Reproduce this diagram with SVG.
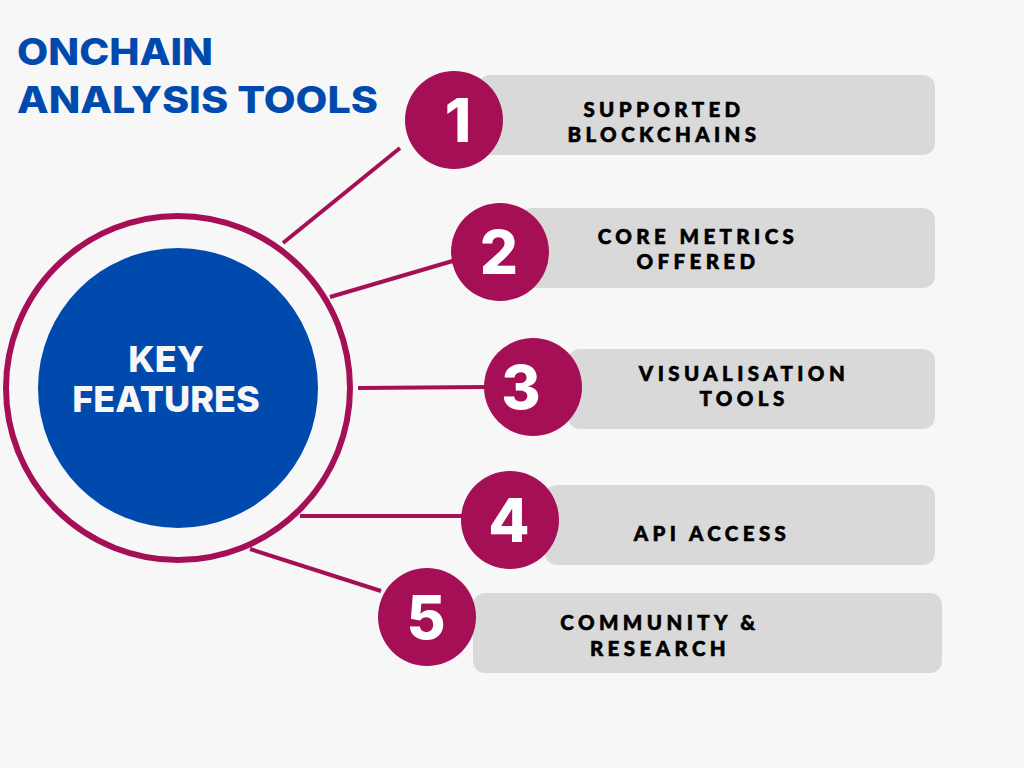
<svg xmlns="http://www.w3.org/2000/svg" width="1024" height="768" viewBox="0 0 1024 768">
<style>
.title{font-family:Inter,"Open Sans","Liberation Sans",sans-serif;font-weight:800;font-size:37px;fill:#004aad}
.center{font-family:Inter,"Open Sans","Liberation Sans",sans-serif;font-weight:800;font-size:36px;fill:#f7f7f7;text-anchor:middle}
.num{font-family:Inter,"Open Sans","Liberation Sans",sans-serif;font-weight:800;font-size:60px;fill:#ffffff;text-anchor:middle}
.lbl{font-family:Lato,"Open Sans","Liberation Sans",sans-serif;font-weight:900;font-size:20.5px;fill:#000;stroke:#000;stroke-width:0.6px;text-anchor:middle;letter-spacing:4.4px}
.box{fill:#d9d9d9}
.badge{fill:#a50f55}
.conn{stroke:#a50f55;stroke-width:4;fill:none}
</style>
<rect width="1024" height="768" fill="#f7f7f7"/>
<g id="title">
<text class="title" x="17" y="65" textLength="196" lengthAdjust="spacingAndGlyphs">ONCHAIN</text>
<text class="title" x="17" y="113" textLength="361" lengthAdjust="spacingAndGlyphs">ANALYSIS TOOLS</text>
</g>
<g id="connectors">
<line class="conn" x1="283" y1="243" x2="400" y2="148"/>
<line class="conn" x1="330" y1="297" x2="456" y2="260"/>
<line class="conn" x1="358" y1="388" x2="486" y2="387"/>
<line class="conn" x1="300" y1="516" x2="463" y2="516"/>
<line class="conn" x1="250" y1="549" x2="381" y2="591"/>
</g>
<g id="key-features">
<circle cx="178" cy="388" r="172" fill="none" stroke="#a50f55" stroke-width="6"/>
<circle cx="178" cy="388" r="140" fill="#004aad"/>
<text class="center" x="166" y="372">KEY</text>
<text class="center" x="166" y="412">FEATURES</text>
</g>
<g id="item1">
<rect class="box" x="478" y="75" width="457" height="80" rx="12"/>
<circle class="badge" cx="454" cy="120" r="49"/>
<text class="num" x="458" y="142">1</text>
<text class="lbl" x="664" y="117">SUPPORTED</text>
<text class="lbl" x="664" y="142">BLOCKCHAINS</text>
</g>
<g id="item2">
<rect class="box" x="520" y="208" width="415" height="80" rx="12"/>
<circle class="badge" cx="500" cy="252" r="49"/>
<text class="num" x="499" y="274">2</text>
<text class="lbl" x="698" y="244">CORE METRICS</text>
<text class="lbl" x="698" y="269">OFFERED</text>
</g>
<g id="item3">
<rect class="box" x="568" y="349" width="367" height="80" rx="12"/>
<circle class="badge" cx="533" cy="387" r="49"/>
<text class="num" x="521" y="409">3</text>
<text class="lbl" x="744" y="381">VISUALISATION</text>
<text class="lbl" x="744" y="406">TOOLS</text>
</g>
<g id="item4">
<rect class="box" x="545" y="485" width="390" height="80" rx="12"/>
<circle class="badge" cx="510" cy="520" r="49"/>
<text class="num" x="509" y="542">4</text>
<text class="lbl" x="712" y="541">API ACCESS</text>
</g>
<g id="item5">
<rect class="box" x="473" y="593" width="469" height="80" rx="12"/>
<circle class="badge" cx="427" cy="617" r="49"/>
<text class="num" x="426" y="639">5</text>
<text class="lbl" x="660" y="630">COMMUNITY &amp;</text>
<text class="lbl" x="660" y="656">RESEARCH</text>
</g>
</svg>
